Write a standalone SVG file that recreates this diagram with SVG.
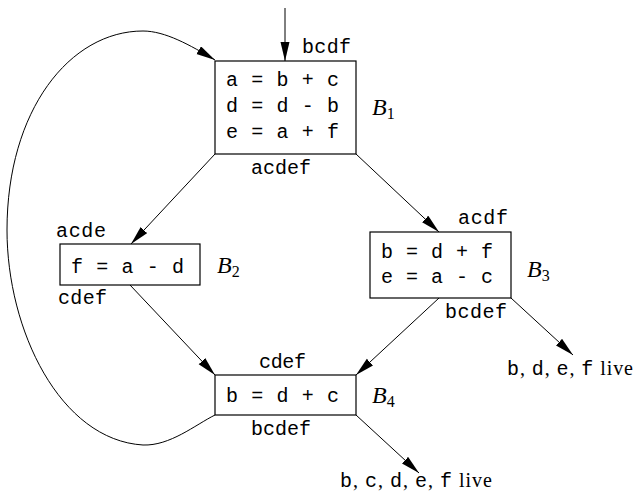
<svg xmlns="http://www.w3.org/2000/svg" width="635" height="499" viewBox="0 0 635 499">
<style>
.box{fill:#fff;stroke:#000;stroke-width:1.2}
.tt{font-family:"Liberation Mono",monospace;font-size:20px;fill:#000}
.bl{font-family:"Liberation Serif",serif;font-style:italic;font-size:24px;fill:#000}
.sub{font-style:normal;font-size:16px}
.rm{font-family:"Liberation Serif",serif;font-size:20px;fill:#000}
.edge{fill:none;stroke:#000;stroke-width:1}
</style>
<defs>
<marker id="ah" markerUnits="userSpaceOnUse" markerWidth="20" markerHeight="10" refX="19" refY="4.5" orient="auto">
<path d="M0,0 L19,4.5 L0,9 Z" fill="#000"/>
</marker>
</defs>
<rect width="635" height="499" fill="#fff"/>
<g id="connectors">
<path class="edge" d="M285,8 L285,61" marker-end="url(#ah)"/>
<path class="edge" d="M215,154 L131,244" marker-end="url(#ah)"/>
<path class="edge" d="M356,154 L439,232" marker-end="url(#ah)"/>
<path class="edge" d="M130,285 L215,375" marker-end="url(#ah)"/>
<path class="edge" d="M439,298 L356,375" marker-end="url(#ah)"/>
<path class="edge" d="M511,298 L573,355" marker-end="url(#ah)"/>
<path class="edge" d="M356,415 L419,473" marker-end="url(#ah)"/>
<path class="edge" d="M215,415 C195,425 170,446 143,445 C60,440 7,330 7,230 C7,110 70,31 143,31 C165,31 190,45 215,60" marker-end="url(#ah)"/>
</g>
<g id="B1">
<rect class="box" x="215" y="61" width="141" height="93"/>
<text class="tt" x="302" y="53" textLength="49" lengthAdjust="spacing">bcdf</text>
<text class="tt" x="226" y="86" textLength="113" lengthAdjust="spacing" xml:space="preserve">a = b + c</text>
<text class="tt" x="226" y="112" textLength="113" lengthAdjust="spacing" xml:space="preserve">d = d - b</text>
<text class="tt" x="226" y="138" textLength="113" lengthAdjust="spacing" xml:space="preserve">e = a + f</text>
<text class="tt" x="251" y="174" textLength="60" lengthAdjust="spacing">acdef</text>
<text class="bl" x="372" y="115">B<tspan class="sub" dy="4">1</tspan></text>
</g>
<g id="B2">
<rect class="box" x="60" y="244" width="140" height="41"/>
<text class="tt" x="56" y="237" textLength="50" lengthAdjust="spacing">acde</text>
<text class="tt" x="71" y="273" textLength="113" lengthAdjust="spacing" xml:space="preserve">f = a - d</text>
<text class="tt" x="58" y="304" textLength="49" lengthAdjust="spacing">cdef</text>
<text class="bl" x="217" y="273">B<tspan class="sub" dy="4">2</tspan></text>
</g>
<g id="B3">
<rect class="box" x="370" y="232" width="141" height="66"/>
<text class="tt" x="458" y="224" textLength="50" lengthAdjust="spacing">acdf</text>
<text class="tt" x="381" y="258" textLength="112" lengthAdjust="spacing" xml:space="preserve">b = d + f</text>
<text class="tt" x="381" y="283" textLength="112" lengthAdjust="spacing" xml:space="preserve">e = a - c</text>
<text class="tt" x="445" y="318" textLength="62" lengthAdjust="spacing">bcdef</text>
<text class="bl" x="527" y="277">B<tspan class="sub" dy="4">3</tspan></text>
</g>
<g id="B4">
<rect class="box" x="215" y="375" width="141" height="40"/>
<text class="tt" x="259" y="368" textLength="47" lengthAdjust="spacing">cdef</text>
<text class="tt" x="226" y="402" textLength="113" lengthAdjust="spacing" xml:space="preserve">b = d + c</text>
<text class="tt" x="251" y="435" textLength="60" lengthAdjust="spacing">bcdef</text>
<text class="bl" x="372" y="403">B<tspan class="sub" dy="4">4</tspan></text>
</g>
<g id="live3">
<text class="rm" x="507" y="375" textLength="126" lengthAdjust="spacing" xml:space="preserve"><tspan class="tt">b</tspan>, <tspan class="tt">d</tspan>, <tspan class="tt">e</tspan>, <tspan class="tt">f</tspan> live</text>
</g>
<g id="live4">
<text class="rm" x="340" y="487" textLength="152" lengthAdjust="spacing" xml:space="preserve"><tspan class="tt">b</tspan>, <tspan class="tt">c</tspan>, <tspan class="tt">d</tspan>, <tspan class="tt">e</tspan>, <tspan class="tt">f</tspan> live</text>
</g>
</svg>
